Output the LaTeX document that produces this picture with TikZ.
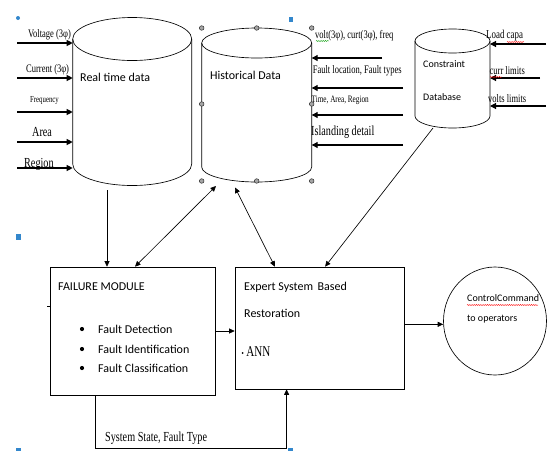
\documentclass[tikz,border=0pt]{standalone}
\usepackage{fontspec}
\setmainfont{Liberation Serif}
\newfontfamily\carl{Carlito}
\usetikzlibrary{arrows.meta,decorations.pathmorphing,shapes.geometric,calc}
\begin{document}
\begin{tikzpicture}[x=1pt,y=1pt,
  every node/.style={inner sep=0pt},
  ln/.style={line width=0.65pt},
  tip/.style={-{Triangle[length=5.5pt,width=5pt]}},
  dtip/.style={{Triangle[length=5.5pt,width=5pt]}-{Triangle[length=5.5pt,width=5pt]}},
  inarr/.style={line width=1.1pt,-{Triangle[length=6pt,width=6pt]}},
  ser/.style={font=\fontsize{#1}{#1}\selectfont,anchor=west,xscale=0.85,yscale=1.15},
  cal/.style={font=\carl\fontsize{#1}{#1}\selectfont,anchor=west},
  box/.style={draw,line width=0.65pt,rectangle},
  handle/.style={circle,draw=gray!35!black,fill=gray!70,minimum size=4.6pt,line width=0.5pt},
  selmark/.style={fill=blue!45!cyan!75!black!80},
  wavy/.style={decorate,decoration={snake,segment length=2.2pt,amplitude=0.5pt},line width=0.4pt}
]
\useasboundingbox (0,0) rectangle (547,-451);

% ---- Real time data cylinder
\draw[ln] (72.7,-39) -- (72.7,-164) arc[start angle=180,end angle=360,x radius=59.5,y radius=21.5] -- (191.7,-39);
\draw[ln] (132.2,-39) ellipse[x radius=59.5,y radius=21.5];
\coordinate (rtw) at (72.7,-100);
\coordinate (rts) at (107,-190);
\node[cal=12] (rtl) at (80,-77) {Real time data};

% ---- Historical data cylinder
\draw[ln] (201.7,-43) -- (201.7,-167) arc[start angle=180,end angle=360,x radius=55,y radius=15] -- (311.7,-43);
\draw[ln] (256.7,-43) ellipse[x radius=55,y radius=15];
\coordinate (hde) at (311.7,-100);
\coordinate (hds1) at (216,-186);
\coordinate (hds2) at (235,-187.5);
\node[cal=12] (hdl) at (210,-75) {Historical Data};
\foreach \px/\py [count=\i] in {201.7/28,256.7/28,311.7/28,201.7/104,311.7/104,201.7/181,256.7/181,311.7/181}
  \node[handle] (h\i) at (\px,-\py) {};

% ---- Constraint database cylinder
\draw[ln] (415,-41) -- (415,-116) arc[start angle=180,end angle=360,x radius=37.5,y radius=12] -- (490,-41);
\draw[ln] (452.5,-41) ellipse[x radius=37.5,y radius=12];
\coordinate (cde) at (490,-80);
\coordinate (cds) at (433,-128);
\node[cal=10] (cd1) at (423,-64) {Constraint};
\node[cal=10] (cd2) at (423,-97) {Database};

% ---- Left inputs
\foreach \y in {43,78,112,142,168} {
  \coordinate (l\y) at (17,-\y);
  \draw[inarr] (l\y) -- (l\y -| rtw);
}
\node[ser=10] (t1) at (28,-35) {Voltage (3φ)};
\node[ser=10] (t2) at (26,-70) {Current (3φ)};
\node[ser=8] (t3) at (30,-100) {Frequency};
\node[ser=12] (t4) at (32,-132) {Area};
\node[ser=12] (t5) at (24,-164) {Region};

% ---- Historical inputs
\foreach \x/\y in {382/58,403/88,403/115,403/145} {
  \coordinate (r\y) at (\x,-\y);
  \draw[inarr] (r\y) -- (r\y -| hde);
}
\node[ser=10] (u1) at (315,-36) {volt(3φ), curt(3φ), freq};
\node[ser=10] (u2) at (312.7,-71) {Fault location, Fault types};
\node[ser=8.5] (u3) at (311.5,-100) {Time, Area, Region};
\node[ser=12] (u4) at (311,-132) {Islanding detail};
\draw[green!60!black,wavy] (316,-41) -- (329,-41);

% ---- Constraint inputs
\foreach \x/\y in {546/44,540/78,546/106} {
  \coordinate (c\y) at (\x,-\y);
  \draw[inarr] (c\y) -- (c\y -| cde);
}
\node[ser=10.5] (v1) at (486,-36) {Load capa};
\node[ser=10] (v2) at (489.5,-71) {curr limits};
\node[ser=10] (v3) at (488,-99) {volts limits};
\draw[red,wavy] (507,-42) -- (524,-42);
\draw[red,wavy] (490,-77) -- (502,-77);

% ---- Failure module
\node[box,minimum width=165pt,minimum height=128pt] (fm) at (132.5,-331) {};
\node[cal=12] (fmt) at (58,-287) {FAILURE MODULE};
\foreach \y/\t in {329/Fault Detection,349/Fault Identification,368/Fault Classification} {
  \fill (82,-\y) circle (2.1);
  \node[cal=12] at (98,-\y) {\t};
}
\draw[ln] (47,-306) -- (50,-306);

% ---- Expert system
\node[box,minimum width=169pt,minimum height=122pt] (es) at (319.5,-328) {};
\node[cal=12] (est1) at (244,-287) {Expert System\hspace{0.15em} Based};
\node[cal=12] (est2) at (244,-313) {Restoration};
\fill (242.6,-353) circle (1);
\node[ser=13] (ann) at (246.2,-352) {ANN};

% ---- Control command ellipse
\node[draw,ellipse,line width=0.65pt,minimum width=103pt,minimum height=108pt] (cc) at (495,-321) {};
\node[cal=10] (cct1) at (467,-298) {ControlCommand};
\node[cal=10] (cct2) at (467,-319) {to operators};
\draw[red,wavy] (467,-305) -- (538,-305);

% ---- Connectors
\draw[ln,tip] (rts) -- (rts |- fm.north);
\draw[ln,dtip] ($(fm.north west)!0.515!(fm.north east)$) -- (hds1);
\draw[ln,dtip] (hds2) -- ($(es.north west)!0.237!(es.north east)$);
\draw[ln,tip] (cds) -- ($(es.north west)!0.533!(es.north east)$);
\draw[ln,tip] (fm.east) -- (fm.east -| es.west);
\coordinate (esr) at ($(es.north east)!0.47!(es.south east)$);
\draw[ln,tip] (esr) -- (esr -| cc.west);
\coordinate (lp) at (0,-448);
\coordinate (fmb) at ($(fm.south west)!0.277!(fm.south east)$);
\coordinate (esb) at ($(es.south west)!0.306!(es.south east)$);
\draw[ln,tip] (fmb) -- (fmb |- lp) -| (esb);
\node[ser=12] (sst) at (105,-438) {System State, Fault Type};

% ---- selection marks
\fill[selmark] (18,-18) circle (2);
\fill[selmark] (288.5,-16.5) rectangle (293,-22);
\fill[selmark] (16,-234) rectangle (20.5,-240);
\fill[selmark] (16,-447.5) rectangle (20.5,-451);
\fill[selmark] (288,-447.5) rectangle (292.5,-451);
\end{tikzpicture}
\end{document}
